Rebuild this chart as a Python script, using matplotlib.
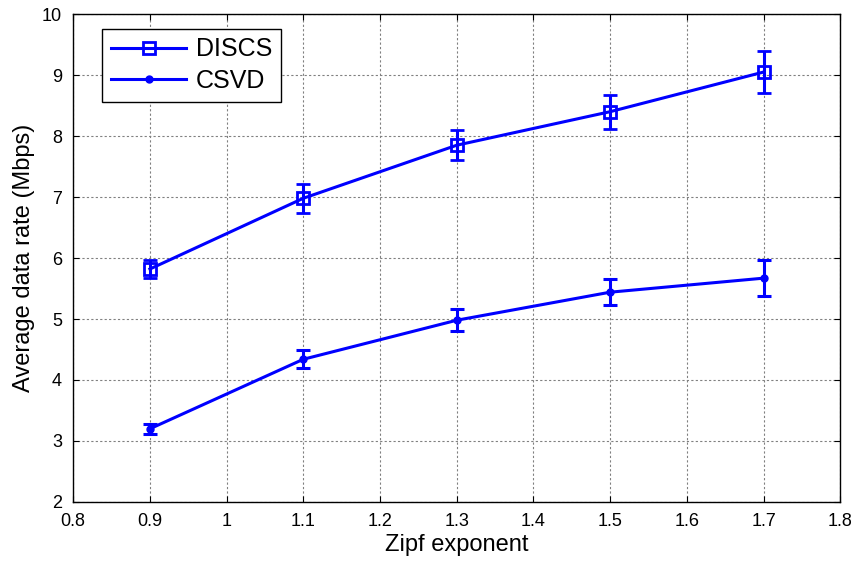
import matplotlib
matplotlib.use("Agg")
import matplotlib.pyplot as plt

plt.rcParams['font.family'] = ['Liberation Sans', 'DejaVu Sans']

# Zipf exponent values
zipf = [0.9, 1.1, 1.3, 1.5, 1.7]

# average data rate (Mbps) and error bar half-widths
discs_rate = [5.82, 6.98, 7.85, 8.40, 9.05]
discs_err = [0.14, 0.24, 0.25, 0.28, 0.34]
csvd_rate = [3.20, 4.34, 4.98, 5.44, 5.67]
csvd_err = [0.08, 0.15, 0.18, 0.21, 0.29]

fig = plt.figure(figsize=(8.61, 5.64), dpi=100)
ax = fig.add_axes([0.085, 0.11, 0.891, 0.865])

c1 = ax.errorbar(zipf, discs_rate, yerr=discs_err, color='#0000ff', lw=2.2,
                 marker='s', ms=9, mfc='none', mew=2, capsize=5, capthick=2.2,
                 elinewidth=2.2, label='DISCS')
c2 = ax.errorbar(zipf, csvd_rate, yerr=csvd_err, color='#0000ff', lw=2.2,
                 marker='o', ms=5, capsize=5, capthick=2.2,
                 elinewidth=2.2, label='CSVD')

ax.set_xlim(0.8, 1.8)
ax.set_ylim(2, 10)
ax.set_xticks([0.8, 0.9, 1, 1.1, 1.2, 1.3, 1.4, 1.5, 1.6, 1.7, 1.8])
ax.set_xticklabels(['0.8', '0.9', '1', '1.1', '1.2', '1.3', '1.4', '1.5', '1.6', '1.7', '1.8'])
ax.set_yticks(range(2, 11))

ax.grid(True, color='#808080', linestyle=(0, (2, 2)), linewidth=0.8)
ax.tick_params(direction='in', top=True, right=True, labelsize=13, length=4)
ax.tick_params(axis='x', pad=8)
ax.tick_params(axis='y', pad=8)
for s in ax.spines.values():
    s.set_linewidth(1.0)

ax.set_xlabel('Zipf exponent', fontsize=17, labelpad=3)
ax.set_ylabel('Average data rate (Mbps)', fontsize=17, labelpad=5)

leg = ax.legend(handles=[c1[0], c2[0]], labels=['DISCS', 'CSVD'],
                loc='upper left', bbox_to_anchor=(0.038, 0.97), fontsize=18,
                fancybox=False, framealpha=1, edgecolor='black',
                handlelength=3.0, handletextpad=0.4, borderpad=0.35,
                labelspacing=0.3, borderaxespad=0)
leg.get_frame().set_linewidth(1.0)

fig.savefig('out.png', dpi=100)
